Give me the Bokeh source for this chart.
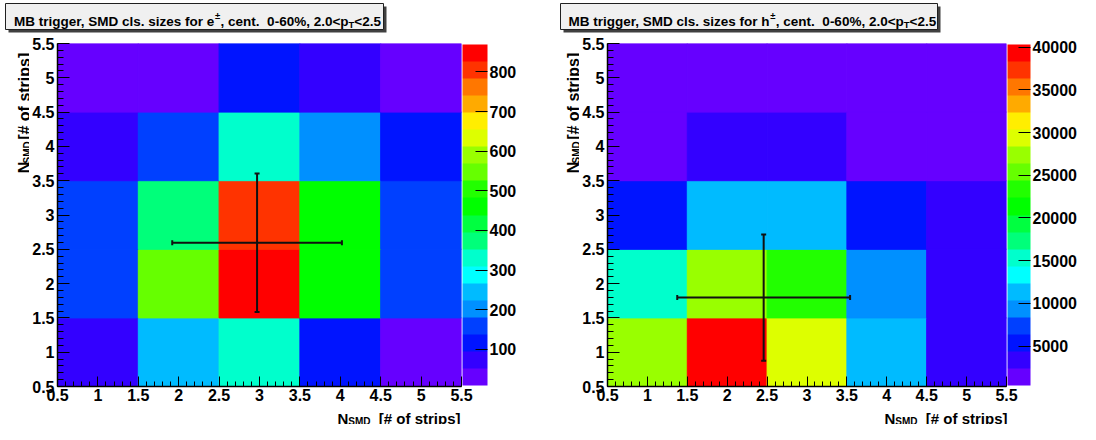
import math
from bokeh.plotting import figure
from bokeh.models import (ColumnDataSource, LinearColorMapper, ColorBar, FixedTicker,
                          SingleIntervalTicker, CustomJSTickFormatter, Range1d,
                          Whisker, TeeHead)
from bokeh.core.properties import value
from bokeh.transform import transform
from bokeh.layouts import row, column
from bokeh.embed import file_html
from bokeh.resources import INLINE

# ---------------- data ----------------
x_bins = [1, 2, 3, 4, 5]
y_bins = [1, 2, 3, 4, 5]

# counts, one row per y bin (y = 1 ... 5), columns x = 1 ... 5
e_counts = [
    [80, 245, 335, 115, 40],
    [170, 550, 869, 470, 165],
    [165, 375, 800, 460, 160],
    [75, 160, 330, 200, 110],
    [20, 35, 116, 73, 9],
]
h_counts = [
    [27000, 40300, 29300, 11300, 2900],
    [15400, 27300, 23500, 9400, 3100],
    [5500, 11400, 11200, 5400, 3000],
    [1900, 3400, 3300, 1600, 900],
    [600, 1100, 1300, 800, 400],
]

# mean and rms (x, y) drawn as crosses
e_mean = [2.97, 2.595]
e_rms = [1.05, 1.01]
h_mean = [2.457, 1.796]
h_rms = [1.083, 0.92]

e_cbar_ticks = [100, 200, 300, 400, 500, 600, 700, 800]
h_cbar_ticks = [5000, 10000, 15000, 20000, 25000, 30000, 35000, 40000]

# title pieces: text, superscript, text, (two spaces), text, subscript, text
e_title = ["MB trigger, SMD cls. sizes for e", "\u00b1", ", cent.", "0-60%, 2.0<p", "T", "<2.5"]
h_title = ["MB trigger, SMD cls. sizes for h", "\u00b1", ", cent.", "0-60%, 2.0<p", "T", "<2.5"]
axis_title = ["N", "SMD", "[# of strips]"]

# ---------------- style ----------------
PALETTE = ["#6600ff", "#3300ff", "#0014ff", "#0040ff", "#0090ff", "#00bbff", "#00ffff",
           "#00ffcc", "#00ff7a", "#00ff40", "#00ff00", "#22ff00", "#66ff00", "#99ff00",
           "#ddff00", "#ffee00", "#ffaa00", "#ff7700", "#ff3300", "#ff0000"]
FONT = "Liberation Sans"

# Arial/Liberation Sans Bold advance widths (per 1000 em)
AW = {' ': 278, ',': 278, '.': 278, '-': 333, '%': 889, '<': 584, '#': 556, '[': 333,
      ']': 333, '\u00b1': 584, 'M': 833, 'B': 722, 'S': 667, 'D': 722, 'N': 722, 'T': 611,
      'a': 556, 'b': 611, 'c': 556, 'd': 611, 'e': 556, 'f': 333, 'g': 611, 'h': 611,
      'i': 278, 'l': 278, 'n': 611, 'o': 611, 'p': 611, 'r': 389, 's': 556, 't': 333,
      'z': 500}


def tw(text, size):
    return sum(AW.get(c, 556) for c in text) * size / 1000.0


# page layout (pixels)
W_L, W_R = 548, 532          # left / right half widths
H_T, H_B, H_X = 34, 372, 18  # title strip, plot row, x-title strip
YL_L, YL_R = 29, 31          # y-title strip widths
TOP_PAD = 9
BOTTOM_AXIS = 20
FRAME_T = H_T + TOP_PAD
FRAME_B = H_T + H_B - BOTTOM_AXIS


def deco(width, height):
    f = figure(width=width, height=height, x_range=Range1d(0, width), y_range=Range1d(0, height),
               x_axis_type=None, y_axis_type=None, output_backend="svg", toolbar_location=None,
               min_border=0)
    f.outline_line_color = None
    f.background_fill_color = "white"
    f.border_fill_color = "white"
    return f


def lab(f, x, y, text, size, angle=0.0, align="left"):
    f.text(x=[x], y=[y], text=[text], text_font=value(FONT), text_font_style="bold",
           text_font_size=value(f"{size}px"), text_color="black", text_align=align,
           text_baseline="alphabetic", angle=angle)


def title_strip(width, ox, box, pieces, x0):
    f = deco(width, H_T)
    l, t, r, b = [v - o for v, o in zip(box, (ox, 0, ox, 0))]
    f.quad(left=[l + 3], right=[r + 3], top=[H_T - (t + 3)], bottom=[H_T - (b + 3)],
           fill_color="#404040", line_color=None)
    f.quad(left=[l], right=[r], top=[H_T - t], bottom=[H_T - b],
           fill_color="#f0f0f0", line_color="#202020", line_width=1)
    x = x0 - ox
    sizes = [13.5, 9.5, 13.5, 13.5, 9.5, 13.5]
    bases = [21, 14.5, 21, 21, 24, 21]
    for k, (txt, sz, base) in enumerate(zip(pieces, sizes, bases)):
        lab(f, x, H_T - base, txt, sz)
        x += tw(txt, sz) + (tw("  ", sz) if k == 2 else 0)
    return f


def ytitle_strip(width, ox, base_x):
    f = deco(width, H_B)
    sizes = [16, 10, 16]
    gap = tw("  ", 16)
    end = FRAME_T + 1                             # page y where the text ends (top)
    ends = [end + tw(axis_title[2], 16) + gap + tw(axis_title[1], 10),
            end + tw(axis_title[2], 16) + gap,
            end]
    offs = [0, 2.5, 0]
    for txt, sz, e, o in zip(axis_title, sizes, ends, offs):
        lab(f, base_x - ox + o, H_B - (e - H_T), txt, sz, angle=math.pi / 2, align="right")
    return f


def xtitle_strip(width, ox, right_x):
    f = deco(width, H_X)
    sizes = [15, 10, 15]
    gap = tw("  ", 15)
    ends = [right_x - tw(axis_title[2], 15) - gap - tw(axis_title[1], 10),
            right_x - tw(axis_title[2], 15) - gap,
            right_x]
    top = H_T + H_B
    for txt, sz, e, base in zip(axis_title, sizes, ends, [418, 420.5, 418]):
        lab(f, e - ox, H_X - (base - top), txt, sz, align="right")
    return f


def make_panel(counts, cticks, mean, rms, width, bl, br, bar_w):
    xs, ys, vs = [], [], []
    for j, yb in enumerate(y_bins):
        for i, xb in enumerate(x_bins):
            xs.append(xb)
            ys.append(yb)
            vs.append(counts[j][i])
    src = ColumnDataSource(dict(x=xs, y=ys, v=vs))
    mapper = LinearColorMapper(palette=PALETTE, low=min(vs), high=max(vs))

    p = figure(width=width, height=H_B, x_range=Range1d(0.5, 5.5), y_range=Range1d(0.5, 5.5),
               output_backend="svg", toolbar_location=None,
               min_border_left=bl, min_border_right=br, min_border_top=TOP_PAD,
               min_border_bottom=BOTTOM_AXIS)
    p.grid.visible = False
    p.outline_line_color = None
    p.background_fill_color = "white"
    p.border_fill_color = "white"

    p.rect(x="x", y="y", width=1, height=1, source=src,
           fill_color=transform("v", mapper), line_color=transform("v", mapper), line_width=1)

    # mean +- rms cross
    hsrc = ColumnDataSource(dict(base=[mean[1]], lower=[mean[0] - rms[0]], upper=[mean[0] + rms[0]]))
    vsrc = ColumnDataSource(dict(base=[mean[0]], lower=[mean[1] - rms[1]], upper=[mean[1] + rms[1]]))
    for s, d in ((hsrc, "width"), (vsrc, "height")):
        w = Whisker(source=s, base="base", lower="lower", upper="upper", dimension=d,
                    line_color="#111111", line_width=2, level="overlay",
                    upper_head=TeeHead(size=5, line_color="#111111", line_width=2),
                    lower_head=TeeHead(size=5, line_color="#111111", line_width=2))
        p.add_layout(w)

    for ax, tin, mtin in ((p.xaxis[0], 10, 5), (p.yaxis[0], 12, 6)):
        ax.ticker = SingleIntervalTicker(interval=0.5, num_minor_ticks=5)
        ax.formatter = CustomJSTickFormatter(code="return String(Math.round(tick*10)/10);")
        ax.major_label_text_font = FONT
        ax.major_label_text_font_style = "bold"
        ax.major_label_text_font_size = "16px"
        ax.major_label_text_color = "black"
        ax.major_tick_in = tin
        ax.major_tick_out = 0
        ax.minor_tick_in = mtin
        ax.minor_tick_out = 0
        ax.axis_line_color = "black"
        ax.axis_line_width = 1.5
        ax.major_tick_line_color = "black"
        ax.minor_tick_line_color = "black"
        ax.major_label_standoff = 2 if ax is p.xaxis[0] else 3

    cb = ColorBar(color_mapper=mapper, ticker=FixedTicker(ticks=cticks), width=bar_w,
                  padding=1, margin=0, label_standoff=2, major_tick_in=12, major_tick_out=0,
                  major_tick_line_color="black", minor_tick_line_color=None,
                  bar_line_color=None, border_line_color=None, background_fill_color=None,
                  major_label_text_font=FONT, major_label_text_font_style="bold",
                  major_label_text_font_size="16px", major_label_text_color="black")
    p.add_layout(cb, "right")
    return p


# left half: frame x 55..461 ; right half: frame x 606..1008 (page pixels)
p1 = make_panel(e_counts, e_cbar_ticks, e_mean, e_rms, W_L - YL_L, 55 - YL_L, W_L - 461, 25)
p2 = make_panel(h_counts, h_cbar_ticks, h_mean, h_rms, W_R - YL_R, 606 - W_L - YL_R,
                W_L + W_R - 1008, 23)

t1 = title_strip(W_L, 0, (5, 3, 383, 29), e_title, 13.5)
t2 = title_strip(W_R, W_L, (560, 3, 937, 29), h_title, 568)
y1 = ytitle_strip(YL_L, 0, 24)
y2 = ytitle_strip(YL_R, W_L, 573)
x1 = xtitle_strip(W_L, 0, 460)
x2 = xtitle_strip(W_R, W_L, 1007)

layout = column(row(t1, t2, spacing=0),
                row(y1, p1, y2, p2, spacing=0),
                row(x1, x2, spacing=0), spacing=0)
open("out.html", "w").write(file_html(layout, INLINE))
